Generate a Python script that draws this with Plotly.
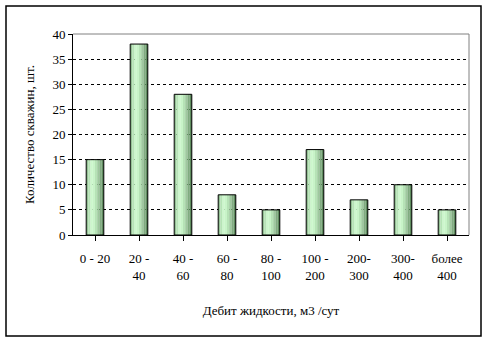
import plotly.graph_objects as go

categories = ["0 - 20", "20 -<br>40", "40 -<br>60", "60 -<br>80", "80 -<br>100",
              "100 -<br>200", "200-<br>300", "300-<br>400", "более<br>400"]
counts = [15, 38, 28, 8, 5, 17, 7, 10, 5]
y_ticks = [0, 5, 10, 15, 20, 25, 30, 35, 40]

x_title = "Дебит жидкости, м3 /сут"
y_title = "Количество скважин, шт."

strip_colors = ["#94c294", "#b6e4b6", "#ccf7cc", "#c8f3c8", "#b6e2b6",
                "#9ec99e", "#80ac80", "#5f8d5f"]
bar_w = 0.4
n = len(strip_colors)
sw = bar_w / n

fig = go.Figure()
xs = list(range(len(categories)))
for i, c in enumerate(strip_colors):
    fig.add_trace(go.Bar(
        x=xs, y=counts, width=sw * 1.02, offset=-bar_w / 2 + i * sw,
        marker=dict(color=c, line=dict(width=0)),
        hoverinfo="skip", showlegend=False))
fig.add_trace(go.Bar(
    x=xs, y=counts, width=bar_w, offset=-bar_w / 2,
    marker=dict(color="rgba(0,0,0,0)", line=dict(color="black", width=1)),
    showlegend=False))

font = dict(family="Liberation Serif, Times New Roman, serif", size=13, color="black")

fig.update_layout(
    width=488, height=342,
    margin=dict(l=73, r=19, t=34, b=107),
    barmode="overlay",
    paper_bgcolor="white", plot_bgcolor="white",
    font=font,
    xaxis=dict(
        tickmode="array", tickvals=xs, ticktext=categories,
        range=[-0.5, len(categories) - 0.5],
        showgrid=False, zeroline=False,
        showline=True, linecolor="black", linewidth=1,
        ticks="outside", ticklen=5, tickcolor="black",
        tickson="boundaries", ticklabelstandoff=6,
        title=dict(text=x_title, standoff=24, font=font),
        tickfont=font,
    ),
    yaxis=dict(
        range=[0, 40], tickvals=y_ticks,
        showgrid=True, gridcolor="black", griddash="3px,3px", gridwidth=1,
        zeroline=False,
        showline=True, linecolor="black", linewidth=1,
        ticks="outside", ticklen=4, tickcolor="black",
        title=dict(text=y_title, standoff=14, font=font),
        tickfont=font,
    ),
)

# gray plot area border (top & right)
fig.add_shape(type="line", xref="paper", yref="paper", x0=0, x1=1, y0=1, y1=1,
              line=dict(color="#808080", width=1))
fig.add_shape(type="line", xref="paper", yref="paper", x0=1, x1=1, y0=0, y1=1,
              line=dict(color="#808080", width=1))

# outer chart frame
pw, ph = 488 - 73 - 19, 342 - 34 - 107
fig.add_shape(type="rect", xref="paper", yref="paper",
              x0=(6 - 73) / pw, x1=(481 - 73) / pw,
              y0=(235 - 336) / ph, y1=(235 - 6) / ph,
              line=dict(color="black", width=1.5), layer="below")

fig.write_html("out.html")
